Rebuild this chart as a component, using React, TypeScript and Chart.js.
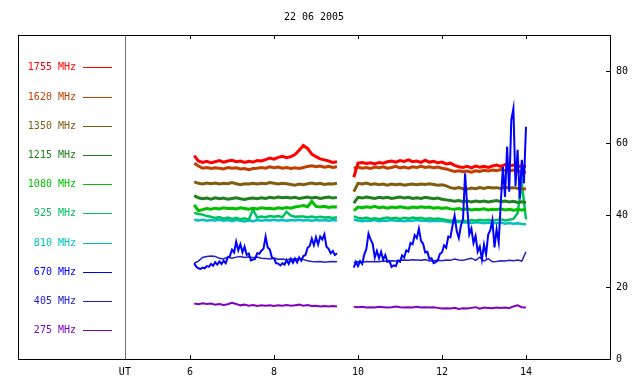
import React, { useEffect, useRef } from "react";
import { Chart, registerables } from "chart.js";

Chart.register(...registerables);

const TITLE = "22 06 2005";
const FONT = '"DejaVu Sans Mono", "Liberation Mono", monospace';

const X_MIN = 1.905;
const X_MAX = 16;
const UT_POS = 4.45;
const X_TICKS = [6, 8, 10, 12, 14];
const Y_MIN = 0;
const Y_MAX = 90;
const Y_TICKS = [0, 20, 40, 60, 80];
const GAP_X = 9.7;

const LABELS = ["1755 MHz", "1620 MHz", "1350 MHz", "1215 MHz", "1080 MHz", "925 MHz", "810 MHz", "670 MHz", "405 MHz", "275 MHz"];
const COLORS = ["#ff0000", "#c04000", "#805c10", "#208020", "#00c000", "#00c060", "#00c0c0", "#0000ff", "#2020c0", "#8000c0"];
const WIDTHS = [3, 3, 3, 3, 3, 2.5, 2.5, 2, 1.5, 2];

// time stamps (UT hours)
const T_A = [6.1, 6.2, 6.3, 6.4, 6.5, 6.6, 6.7, 6.8, 6.9, 7.0, 7.1, 7.2, 7.3, 7.4, 7.5, 7.6, 7.7, 7.8, 7.9, 8.0, 8.1, 8.2, 8.3, 8.4, 8.5, 8.6, 8.7, 8.8, 8.9, 9.0, 9.1, 9.2, 9.3, 9.4, 9.5];
const T_B = [9.9, 10.0, 10.1, 10.2, 10.3, 10.4, 10.5, 10.6, 10.7, 10.8, 10.9, 11.0, 11.1, 11.2, 11.3, 11.4, 11.5, 11.6, 11.7, 11.8, 11.9, 12.0, 12.1, 12.2, 12.3, 12.4, 12.5, 12.6, 12.7, 12.8, 12.9, 13.0, 13.1, 13.2, 13.3, 13.4, 13.5, 13.6, 13.7, 13.8, 13.9, 14.0];
const TF_A = [6.10, 6.15, 6.20, 6.25, 6.30, 6.35, 6.40, 6.45, 6.50, 6.55, 6.60, 6.65, 6.70, 6.75, 6.80, 6.85, 6.90, 6.95, 7.00, 7.05, 7.10, 7.15, 7.20, 7.25, 7.30, 7.35, 7.40, 7.45, 7.50, 7.55, 7.60, 7.65, 7.70, 7.75, 7.80, 7.85, 7.90, 7.95, 8.00, 8.05, 8.10, 8.15, 8.20, 8.25, 8.30, 8.35, 8.40, 8.45, 8.50, 8.55, 8.60, 8.65, 8.70, 8.75, 8.80, 8.85, 8.90, 8.95, 9.00, 9.05, 9.10, 9.15, 9.20, 9.25, 9.30, 9.35, 9.40, 9.45, 9.50];
const TF_B = [9.90, 9.95, 10.00, 10.05, 10.10, 10.15, 10.20, 10.25, 10.30, 10.35, 10.40, 10.45, 10.50, 10.55, 10.60, 10.65, 10.70, 10.75, 10.80, 10.85, 10.90, 10.95, 11.00, 11.05, 11.10, 11.15, 11.20, 11.25, 11.30, 11.35, 11.40, 11.45, 11.50, 11.55, 11.60, 11.65, 11.70, 11.75, 11.80, 11.85, 11.90, 11.95, 12.00, 12.05, 12.10, 12.15, 12.20, 12.25, 12.30, 12.35, 12.40, 12.45, 12.50, 12.55, 12.60, 12.65, 12.70, 12.75, 12.80, 12.85, 12.90, 12.95, 13.00, 13.05, 13.10, 13.15, 13.20, 13.25, 13.30, 13.35, 13.40, 13.45, 13.50, 13.55, 13.60, 13.65, 13.70, 13.75, 13.80, 13.85, 13.90, 13.95, 14.00];

// flux values per frequency
const S1755_A = [56.5, 55.0, 54.6, 54.9, 54.5, 54.8, 55.1, 54.7, 55.0, 55.2, 54.8, 55.0, 54.6, 54.9, 54.7, 55.1, 55.0, 55.4, 55.8, 55.5, 56.0, 56.3, 55.9, 56.2, 56.8, 58.0, 59.3, 58.5, 56.9, 56.2, 55.6, 55.3, 55.0, 54.6, 54.8];
const S1755_B = [50.5, 54.4, 54.6, 54.3, 54.5, 54.2, 54.6, 54.4, 54.8, 55.0, 54.7, 55.1, 54.9, 55.3, 54.8, 55.0, 54.6, 55.2, 54.7, 54.9, 54.5, 54.7, 54.2, 54.4, 53.8, 53.4, 53.2, 53.5, 53.1, 53.6, 53.3, 53.5, 53.2, 53.6, 53.9, 53.5, 54.0, 53.6, 53.9, 53.4, 53.7, 53.5];
const S1620_A = [54.4, 53.6, 53.0, 53.2, 52.9, 53.1, 53.0, 52.8, 53.2, 53.0, 53.1, 52.8, 52.9, 52.6, 52.9, 53.0, 53.2, 53.0, 53.4, 53.1, 53.3, 53.0, 53.2, 52.9, 53.1, 52.9, 53.2, 53.5, 53.7, 53.4, 53.6, 53.3, 53.5, 53.2, 53.4];
const S1620_B = [53.0, 53.3, 53.0, 53.2, 52.9, 53.3, 53.1, 53.4, 53.0, 53.2, 53.5, 53.1, 53.3, 53.0, 53.4, 53.2, 53.5, 53.2, 53.4, 53.1, 53.3, 53.0, 52.8, 52.4, 52.1, 52.3, 52.0, 52.2, 51.9, 52.3, 52.1, 52.4, 52.2, 52.5, 52.3, 52.6, 52.4, 52.2, 52.5, 52.1, 52.0, 51.8];
const S1350_A = [49.2, 48.8, 48.6, 48.9, 48.7, 48.9, 48.6, 48.8, 48.7, 49.0, 48.7, 48.4, 48.7, 48.6, 48.8, 48.6, 48.8, 48.7, 49.0, 48.8, 48.6, 48.8, 48.7, 48.5, 48.3, 48.6, 48.4, 48.7, 48.9, 48.6, 48.8, 48.5, 48.7, 48.6, 48.8];
const S1350_B = [46.5, 48.8, 48.6, 48.9, 48.5, 48.7, 48.4, 48.6, 48.3, 48.6, 48.4, 48.6, 48.3, 48.5, 48.6, 48.4, 48.6, 48.5, 48.7, 48.5, 48.3, 48.4, 48.1, 47.6, 47.4, 47.6, 47.3, 47.2, 47.5, 47.3, 47.6, 47.4, 47.7, 47.5, 47.6, 47.4, 47.7, 47.5, 47.6, 47.4, 47.3, 47.2];
const S1215_A = [45.4, 44.8, 44.5, 44.7, 44.4, 44.8, 44.5, 44.7, 44.4, 44.6, 44.8, 44.5, 44.3, 44.6, 44.7, 44.5, 44.8, 44.6, 44.9, 44.7, 45.0, 44.8, 44.9, 44.7, 44.9, 44.6, 44.8, 45.0, 44.7, 44.9, 44.6, 44.8, 45.0, 44.7, 44.9];
const S1215_B = [43.3, 44.9, 44.7, 45.0, 44.8, 44.6, 44.9, 44.7, 44.9, 44.6, 44.8, 45.0, 44.7, 44.9, 44.6, 44.8, 44.6, 44.9, 44.7, 44.5, 44.7, 44.4, 44.2, 44.0, 43.8, 44.0, 43.7, 43.9, 43.6, 43.9, 43.7, 43.9, 43.6, 43.8, 44.0, 43.7, 43.9, 43.6, 43.8, 43.5, 43.7, 43.5];
const S1080_A = [42.8, 41.2, 41.5, 41.8, 41.6, 41.9, 41.7, 42.0, 41.8, 41.9, 41.7, 42.0, 41.8, 41.6, 41.9, 41.7, 42.0, 41.8, 41.9, 41.7, 42.0, 41.8, 42.1, 41.9, 42.2, 42.4, 42.6, 42.3, 43.8, 42.4, 42.2, 42.4, 42.1, 42.3, 42.2];
const S1080_B = [41.2, 42.2, 42.0, 42.3, 42.1, 42.4, 42.0, 42.2, 41.9, 42.2, 42.0, 42.3, 42.1, 41.9, 42.2, 42.0, 42.3, 42.1, 42.2, 41.9, 42.1, 41.8, 42.0, 41.7, 41.6, 41.8, 41.5, 41.7, 41.4, 41.6, 41.5, 41.7, 41.4, 41.6, 41.5, 41.7, 41.4, 41.6, 41.3, 41.5, 41.4, 41.5];
const S925_A = [40.6, 40.3, 40.1, 39.7, 39.5, 39.2, 39.4, 39.0, 39.3, 38.9, 39.2, 38.8, 39.1, 38.7, 41.5, 39.3, 39.6, 39.4, 39.7, 39.5, 39.7, 39.4, 40.9, 39.8, 39.5, 39.6, 39.6, 39.4, 39.6, 39.3, 39.5, 39.3, 39.4, 39.2, 39.4];
const S925_B = [39.6, 39.2, 39.0, 39.3, 38.9, 39.1, 38.8, 39.1, 39.3, 39.0, 39.2, 38.9, 39.2, 39.0, 39.3, 39.1, 39.2, 38.9, 39.1, 38.9, 39.0, 38.8, 38.6, 38.4, 38.6, 38.3, 38.5, 38.3, 38.6, 38.4, 38.7, 38.5, 38.7, 38.4, 38.6, 38.8, 38.5, 38.7, 38.9, 40.5, 48.9, 38.8];
const S810_A = [38.7, 38.5, 38.7, 38.4, 38.6, 38.5, 38.7, 38.4, 38.6, 38.3, 38.6, 38.4, 38.2, 38.5, 38.3, 38.6, 38.4, 38.6, 38.5, 38.7, 38.5, 38.6, 38.4, 38.6, 38.5, 38.7, 38.5, 38.6, 38.4, 38.6, 38.5, 38.6, 38.4, 38.6, 38.5];
const S810_B = [38.7, 38.5, 38.3, 38.5, 38.4, 38.6, 38.3, 38.5, 38.4, 38.6, 38.4, 38.5, 38.3, 38.5, 38.4, 38.6, 38.4, 38.5, 38.3, 38.4, 38.3, 38.4, 38.2, 38.0, 37.9, 38.1, 37.9, 38.0, 37.8, 38.0, 37.9, 37.7, 37.9, 37.8, 37.7, 37.9, 37.6, 37.8, 37.6, 37.7, 37.5, 37.4];
const S670_A = [26.6, 25.6, 25.2, 25.0, 25.4, 25.2, 25.8, 25.6, 26.4, 25.9, 26.9, 26.2, 27.1, 26.4, 27.3, 26.6, 28.2, 28.6, 30.4, 29.6, 32.6, 30.2, 31.9, 29.6, 31.2, 28.9, 29.3, 27.4, 27.6, 27.8, 29.4, 29.2, 30.1, 30.6, 34.0, 31.0, 30.4, 28.2, 28.0, 26.6, 26.5, 26.0, 26.6, 26.2, 27.5, 26.4, 27.8, 26.7, 27.9, 26.8, 28.2, 27.3, 28.6, 28.9, 30.9, 31.4, 33.4, 31.6, 33.8, 31.8, 34.0, 33.2, 34.6, 31.2, 30.6, 29.4, 30.0, 28.9, 29.4];
const S670_B = [25.4, 27.0, 25.8, 27.2, 26.4, 29.0, 30.6, 34.8, 33.2, 32.0, 28.2, 30.0, 28.0, 29.8, 27.6, 28.9, 27.0, 27.2, 25.6, 26.0, 25.8, 27.3, 27.0, 28.8, 28.2, 30.2, 29.8, 32.2, 31.9, 34.4, 33.6, 36.2, 32.8, 32.0, 29.6, 29.8, 27.8, 28.0, 26.6, 26.9, 27.4, 29.2, 29.6, 31.6, 30.9, 34.0, 33.8, 37.0, 39.8, 35.6, 33.6, 37.0, 38.8, 51.6, 42.3, 34.6, 36.2, 32.2, 34.2, 29.8, 31.2, 27.6, 31.8, 29.0, 34.6, 35.8, 38.6, 31.0, 36.0, 32.4, 43.5, 53.4, 45.0, 59.0, 46.5, 66.4, 69.6, 48.0, 58.1, 44.5, 55.3, 48.8, 64.5];
const S405_A = [26.6, 27.2, 28.2, 28.5, 28.6, 28.5, 28.0, 27.8, 28.3, 28.0, 28.3, 28.5, 28.2, 28.4, 28.1, 28.3, 28.0, 27.9, 27.8, 28.0, 27.7, 27.8, 27.6, 27.8, 27.7, 27.9, 27.6, 27.3, 27.1, 27.0, 27.1, 26.9, 27.0, 27.1, 27.0];
const S405_B = [26.8, 27.0, 26.9, 27.1, 27.0, 27.1, 27.0, 27.2, 27.1, 27.3, 27.2, 27.4, 27.5, 27.4, 27.6, 27.5, 27.4, 27.6, 27.2, 27.3, 27.4, 27.3, 27.5, 27.4, 27.8, 27.5, 27.4, 27.7, 28.0, 27.4, 28.3, 27.2, 27.9, 27.0, 27.1, 27.3, 27.2, 27.4, 27.3, 27.5, 27.2, 29.8];
const S275_A = [15.4, 15.2, 15.5, 15.3, 15.4, 15.1, 15.3, 15.0, 15.2, 15.6, 15.3, 14.9, 15.1, 14.8, 15.0, 14.7, 14.9, 14.8, 14.9, 14.7, 14.9, 14.8, 15.0, 14.8, 14.9, 15.1, 14.8, 15.0, 14.7, 14.8, 14.6, 14.7, 14.6, 14.7, 14.6];
const S275_B = [14.5, 14.4, 14.5, 14.3, 14.4, 14.3, 14.5, 14.4, 14.3, 14.4, 14.6, 14.4, 14.3, 14.4, 14.3, 14.5, 14.3, 14.4, 14.3, 14.4, 14.2, 14.0, 14.1, 14.0, 14.2, 13.9, 14.1, 14.0, 14.2, 14.4, 14.0, 14.3, 14.2, 14.1, 14.3, 14.2, 14.3, 14.1, 14.6, 14.9, 14.4, 14.3];

const SERIES_A = [S1755_A, S1620_A, S1350_A, S1215_A, S1080_A, S925_A, S810_A, S670_A, S405_A, S275_A];
const SERIES_B = [S1755_B, S1620_B, S1350_B, S1215_B, S1080_B, S925_B, S810_B, S670_B, S405_B, S275_B];

function pts(times: number[], vals: number[]) {
  return vals.map((v, i) => ({ x: times[i], y: v }));
}

function buildData(i: number) {
  const fine = i === 7;
  const ta = fine ? TF_A : T_A;
  const tb = fine ? TF_B : T_B;
  return [...pts(ta, SERIES_A[i]), { x: GAP_X, y: null }, ...pts(tb, SERIES_B[i])];
}

const decorPlugin = {
  id: "decor",
  afterDraw(chart: any) {
    const { ctx, chartArea: a, scales } = chart;
    const x = scales.x;
    const y = scales.y;
    ctx.save();
    ctx.lineWidth = 1;
    // divider between legend and data
    const dx = Math.round(x.getPixelForValue(UT_POS)) + 0.5;
    ctx.strokeStyle = "#707070";
    ctx.beginPath();
    ctx.moveTo(dx, a.top);
    ctx.lineTo(dx, a.bottom);
    ctx.stroke();
    // frame
    ctx.strokeStyle = "#000";
    ctx.strokeRect(a.left + 0.5, a.top + 0.5, a.right - a.left, a.bottom - a.top);
    ctx.beginPath();
    for (const v of X_TICKS) {
      const px = Math.round(x.getPixelForValue(v)) + 0.5;
      ctx.moveTo(px, a.bottom);
      ctx.lineTo(px, a.bottom - 4);
      ctx.moveTo(px, a.top);
      ctx.lineTo(px, a.top + 4);
    }
    for (const v of Y_TICKS) {
      const py = Math.round(y.getPixelForValue(v)) + 0.5;
      ctx.moveTo(a.right - 4, py);
      ctx.lineTo(a.right, py);
    }
    ctx.stroke();
    // legend
    ctx.font = "10px " + FONT;
    ctx.textAlign = "right";
    ctx.textBaseline = "middle";
    for (let i = 0; i < LABELS.length; i++) {
      const ly = Math.round(67.3 + i * 29.22);
      ctx.fillStyle = COLORS[i];
      ctx.fillText(LABELS[i], 76, ly + 0.5);
      ctx.strokeStyle = COLORS[i];
      ctx.beginPath();
      ctx.moveTo(83, ly + 0.5);
      ctx.lineTo(112, ly + 0.5);
      ctx.stroke();
    }
    ctx.restore();
  },
};

export default function App() {
  const ref = useRef<HTMLCanvasElement>(null);
  useEffect(() => {
    const datasets = LABELS.map((label, i) => ({
      label,
      data: buildData(i),
      borderColor: COLORS[i],
      backgroundColor: COLORS[i],
      borderWidth: WIDTHS[i],
      pointRadius: 0,
      tension: 0,
      fill: false,
      spanGaps: false,
      order: i === 7 ? -1 : 0,
    }));
    const chart = new Chart(ref.current as HTMLCanvasElement, {
      type: "line",
      data: { datasets } as any,
      plugins: [decorPlugin],
      options: {
        animation: false,
        responsive: false,
        devicePixelRatio: 1,
        layout: { padding: { left: 18, top: 0, right: 0, bottom: 0 } },
        plugins: {
          legend: { display: false },
          tooltip: { enabled: false },
          title: {
            display: true,
            text: TITLE,
            fullSize: false,
            color: "#000",
            font: { family: FONT, size: 10, weight: "normal" },
            padding: { top: 11, bottom: 12 },
          },
        },
        scales: {
          x: {
            type: "linear",
            min: X_MIN,
            max: X_MAX,
            afterBuildTicks: (s: any) => {
              s.ticks = [UT_POS, ...X_TICKS].map((v) => ({ value: v }));
            },
            afterFit: (s: any) => {
              s.height = 25;
            },
            grid: { display: false, drawTicks: false },
            border: { display: false },
            ticks: {
              autoSkip: false,
              maxRotation: 0,
              padding: 7,
              color: "#000",
              font: { family: FONT, size: 10 },
              callback: (v: any) => (v === UT_POS ? "UT" : String(v)),
            },
          },
          y: {
            type: "linear",
            position: "right",
            min: Y_MIN,
            max: Y_MAX,
            afterBuildTicks: (s: any) => {
              s.ticks = Y_TICKS.map((v) => ({ value: v }));
            },
            afterFit: (s: any) => {
              s.width = 30;
            },
            grid: { display: false, drawTicks: false },
            border: { display: false },
            ticks: {
              padding: 6,
              color: "#000",
              font: { family: FONT, size: 10 },
            },
          },
        },
      } as any,
    });
    return () => chart.destroy();
  }, []);
  return (
    <div style={{ position: "fixed", left: 0, top: 0, width: 640, height: 384, background: "#fff" }}>
      <canvas ref={ref} width={640} height={384} style={{ display: "block", width: 640, height: 384 }} />
    </div>
  );
}
